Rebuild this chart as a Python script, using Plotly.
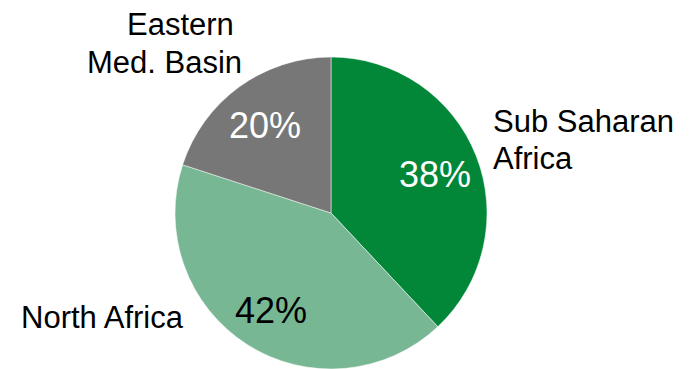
import math
import plotly.graph_objects as go

# Regional split of the total
regions = ["Sub Saharan Africa", "North Africa", "Eastern Med. Basin"]
shares = [38, 42, 20]
slice_colors = ["#028739", "#77B793", "#777777"]
pct_text_colors = ["white", "black", "white"]

W, H = 696, 369
CX, CY, R = 331, 213, 156  # pie centre and radius in pixels

fig = go.Figure(go.Pie(
    labels=regions,
    values=shares,
    sort=False,
    direction="clockwise",
    rotation=0,
    marker=dict(colors=slice_colors, line=dict(color="white", width=0.5)),
    textinfo="none",
    hoverinfo="label+percent",
    showlegend=False,
    domain=dict(x=[(CX - R) / W, (CX + R) / W], y=[(H - CY - R) / H, (H - CY + R) / H]),
))

FONT = "Liberation Sans, Arial, sans-serif"
annotations = []

# percentage labels at each slice's mid-angle
total = sum(shares)
cum = 0
for val, col in zip(shares, pct_text_colors):
    mid = (cum + val / 2) / total * 2 * math.pi
    cum += val
    r = 0.72 * R
    annotations.append(dict(
        x=CX / W, y=1 - (CY + 3) / H, xref="paper", yref="paper",
        xshift=r * math.sin(mid), yshift=r * math.cos(mid),
        text=f"{round(val / total * 100)}%", showarrow=False,
        font=dict(family=FONT, size=36, color=col),
        xanchor="center", yanchor="middle",
    ))

# category labels outside the pie
outer = [
    ("Eastern", 180, 24, "center"),
    ("Med. Basin", 164, 62, "center"),
    ("Sub Saharan", 491, 121, "left"),
    ("Africa", 491, 158, "left"),
    ("North Africa", 19, 317, "left"),
]
for txt, x, y, anchor in outer:
    annotations.append(dict(
        x=x / W, y=1 - y / H, xref="paper", yref="paper",
        text=txt, showarrow=False,
        font=dict(family=FONT, size=31, color="black"),
        xanchor=anchor, yanchor="middle",
    ))

fig.update_layout(
    width=W, height=H,
    margin=dict(l=0, r=0, t=0, b=0),
    paper_bgcolor="white", plot_bgcolor="white",
    annotations=annotations,
)

fig.write_html("out.html")
